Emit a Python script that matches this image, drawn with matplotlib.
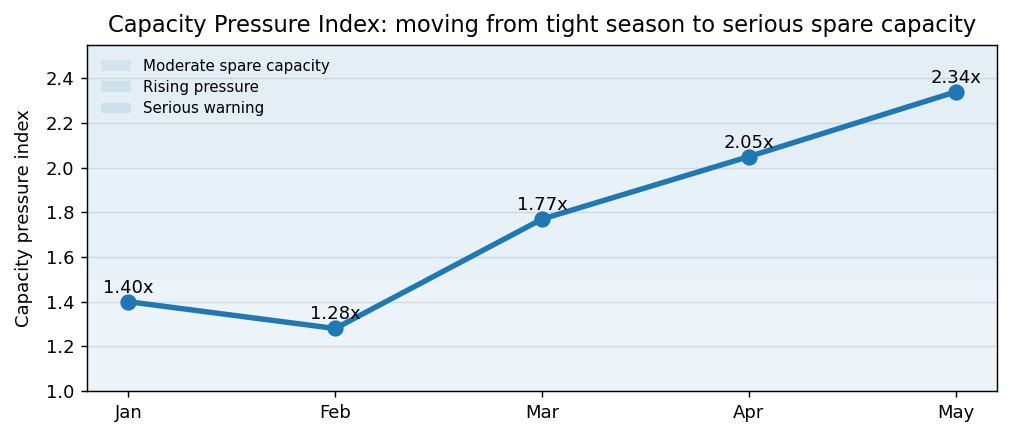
import matplotlib.pyplot as plt

months = ["Jan", "Feb", "Mar", "Apr", "May"]
pressure_index = [1.40, 1.28, 1.77, 2.05, 2.34]

band_names = ["Moderate spare capacity", "Rising pressure", "Serious warning"]
band_low = [1.0, 1.5, 2.0]
band_high = [1.5, 2.0, 2.55]
band_alpha = [0.08, 0.10, 0.12]

fig, ax = plt.subplots(figsize=(1013 / 130, 440 / 130), dpi=130)
fig.subplots_adjust(left=87 / 1013, right=997 / 1013, top=1 - 45 / 440, bottom=1 - 391 / 440)

for name, lo, hi, a in zip(band_names, band_low, band_high, band_alpha):
    ax.axhspan(lo, hi, color="tab:blue", alpha=a, lw=0, label=name)

x = list(range(len(months)))
ax.plot(x, pressure_index, color="tab:blue", lw=3, marker="o", markersize=8)
for xi, v in zip(x, pressure_index):
    ax.annotate(f"{v:.2f}x", (xi, v), textcoords="offset points", xytext=(0, 5),
                ha="center", fontsize=10)

ax.set_xticks(x)
ax.set_xticklabels(months)
ax.set_xlim(-0.2, 4.2)
ax.set_ylim(1.0, 2.55)
ax.yaxis.grid(True, color="gray", alpha=0.2)
ax.set_axisbelow(True)
ax.set_ylabel("Capacity pressure index", labelpad=7)
ax.set_title("Capacity Pressure Index: moving from tight season to serious spare capacity",
             fontsize=12.5, pad=7)
ax.legend(loc="upper left", frameon=False, fontsize="small", labelspacing=0.42)

fig.savefig("out.png", dpi=130)
